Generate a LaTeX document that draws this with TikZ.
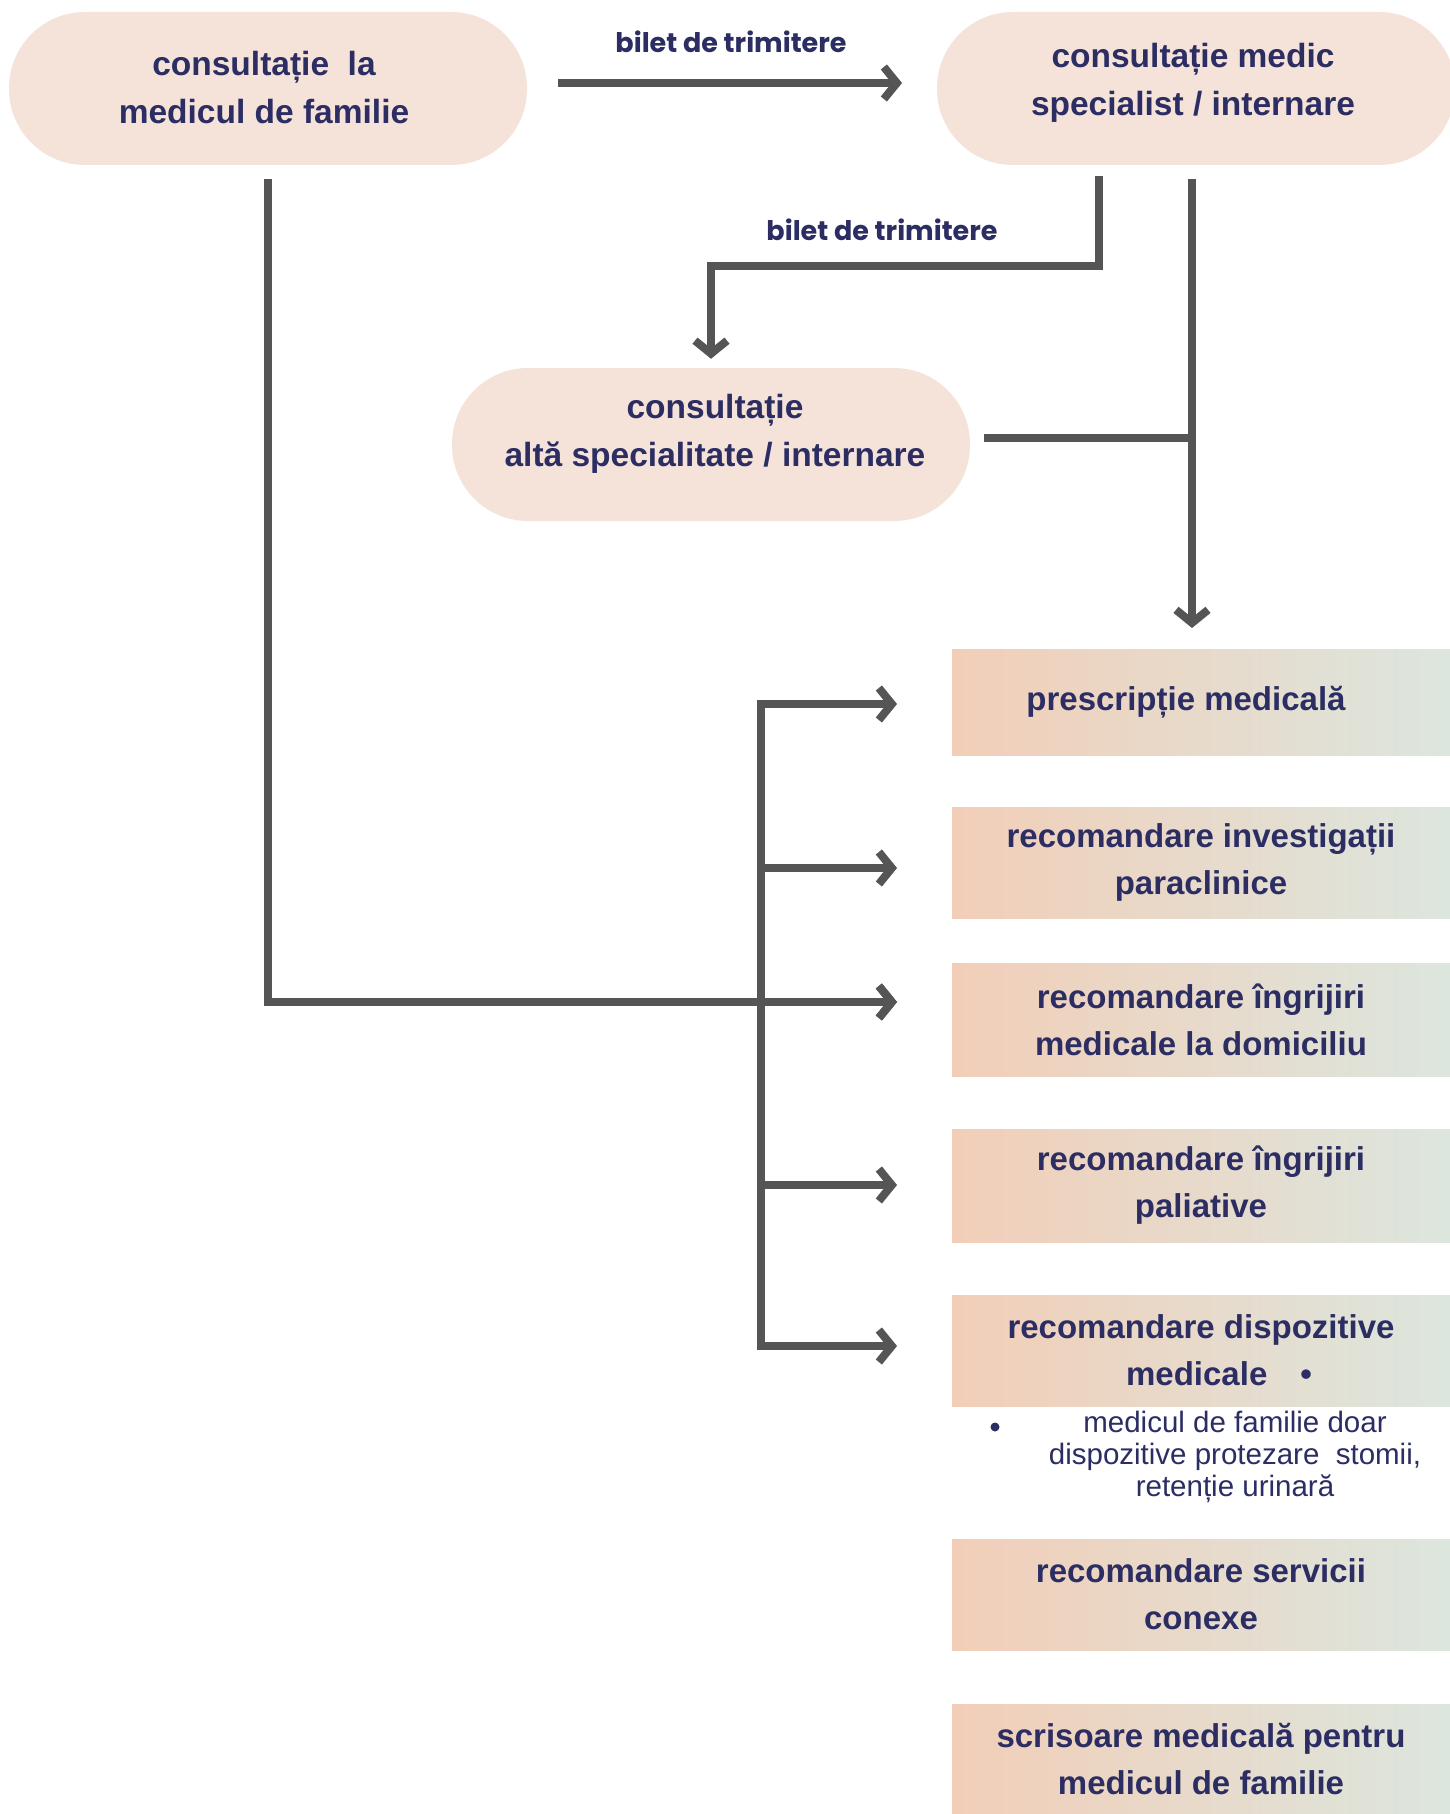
\documentclass[tikz,border=0pt]{standalone}
\usepackage{fontspec}
\setmainfont{Liberation Sans}
\newfontfamily\tagfont{Poppins}
\usetikzlibrary{arrows.meta}
\definecolor{navy}{HTML}{2B2D63}
\definecolor{pillfill}{HTML}{F5E3D9}
\definecolor{linegrey}{HTML}{555555}
\definecolor{peach}{HTML}{F2CEB8}
\definecolor{sage}{HTML}{DCE6DE}
\tikzset{
  pill/.style={fill=pillfill, rounded corners=76pt, minimum width=518pt, minimum height=153pt},
  pilltext/.style={align=center, text=navy, font=\fontsize{33.5}{48}\selectfont\bfseries},
  outcome/.style={left color=peach, right color=sage, minimum width=498pt, inner sep=0pt,
    align=center, text=navy, font=\fontsize{33}{47}\selectfont\bfseries},
  note/.style={align=center, text=navy, font=\fontsize{29.5}{32}\selectfont},
  tag/.style={text=navy, font=\tagfont\fontsize{27}{30}\selectfont\bfseries},
  conn/.style={draw=linegrey, line width=8pt},
  arr/.style={conn, -{Straight Barb[length=13pt,width=32pt]}},
}
\begin{document}
\begin{tikzpicture}[x=1pt,y=-1pt]
\useasboundingbox (0,0) rectangle (1450,1814);
\fill[white] (0,0) rectangle (1450,1814);
% steps
\node[pill] (fam) at (268,88.5) {};
\node[pilltext] (famText) at (264,88) {consultație\ \ la\\medicul de familie};
\node[pill] (spec) at (1196,88.5) {};
\node[pilltext] (specText) at (1193,83) {consultație medic\\specialist / internare};
\node[pill] (alt) at (711,444.5) {};
\node[pilltext] (altText) at (715,434) {consultație\\altă specialitate / internare};
\node[tag] (tag1) at (731,42) {bilet de trimitere};
\node[tag] (tag2) at (882,230) {bilet de trimitere};
% outcomes
\node[outcome, minimum height=106pt] (outA) at (1201,702) {prescripție medicală\hspace*{30pt}};
\node[outcome, minimum height=111pt] (outB) at (1201,862.5) {recomandare investigații\\paraclinice};
\node[outcome, minimum height=113pt] (outC) at (1201,1019.5) {recomandare îngrijiri\\medicale la domiciliu};
\node[outcome, minimum height=113pt] (outD) at (1201,1185.5) {recomandare îngrijiri\\paliative};
\node[outcome, minimum height=111pt] (outE) at (1201,1350.5) {recomandare dispozitive\\\hspace*{36pt}medicale\quad•};
\node[note] (noteE) at (1235,1457) {medicul de familie doar\\dispozitive protezare\ \ stomii,\\retenție urinară};
\node[circle, fill=navy, inner sep=0pt, minimum size=9pt] (dotE) at (995,1427) {};
\node[outcome, minimum height=111pt] (outF) at (1201,1594.5) {recomandare servicii\\conexe};
\node[outcome, minimum height=110pt] (outG) at (1201,1759) {scrisoare medicală pentru\\medicul de familie};
% connectors
\coordinate (t1s) at (558,83);
\coordinate (t1e) at (902,83);
\draw[arr] (t1s) -- (t1e);
\coordinate (s1) at (1099,176);
\coordinate (bend) at (711,266);
\draw[arr] (s1) |- (bend) -- ([yshift=9pt]alt.north);
\coordinate (s2) at (1192,179);
\coordinate (s2e) at (1192,628);
\draw[arr] (s2) -- (s2e);
\coordinate (j1) at (984,438);
\draw[conn] (j1) -- (j1 -| s2);
\coordinate (brTop) at (761,700);
\coordinate (brBot) at (761,1350);
\draw[conn] (brTop) -- (brBot);
\foreach \n/\y in {A/704,B/868,C/1002,D/1185,E/1346}{
  \coordinate (br\n) at (757,\y);
  \coordinate (tip\n) at (897,\y);
  \draw[arr] (br\n) -- (tip\n);
}
\draw[arr] ([yshift=-14pt]fam.south) |- (tipC);
\end{tikzpicture}
\end{document}
